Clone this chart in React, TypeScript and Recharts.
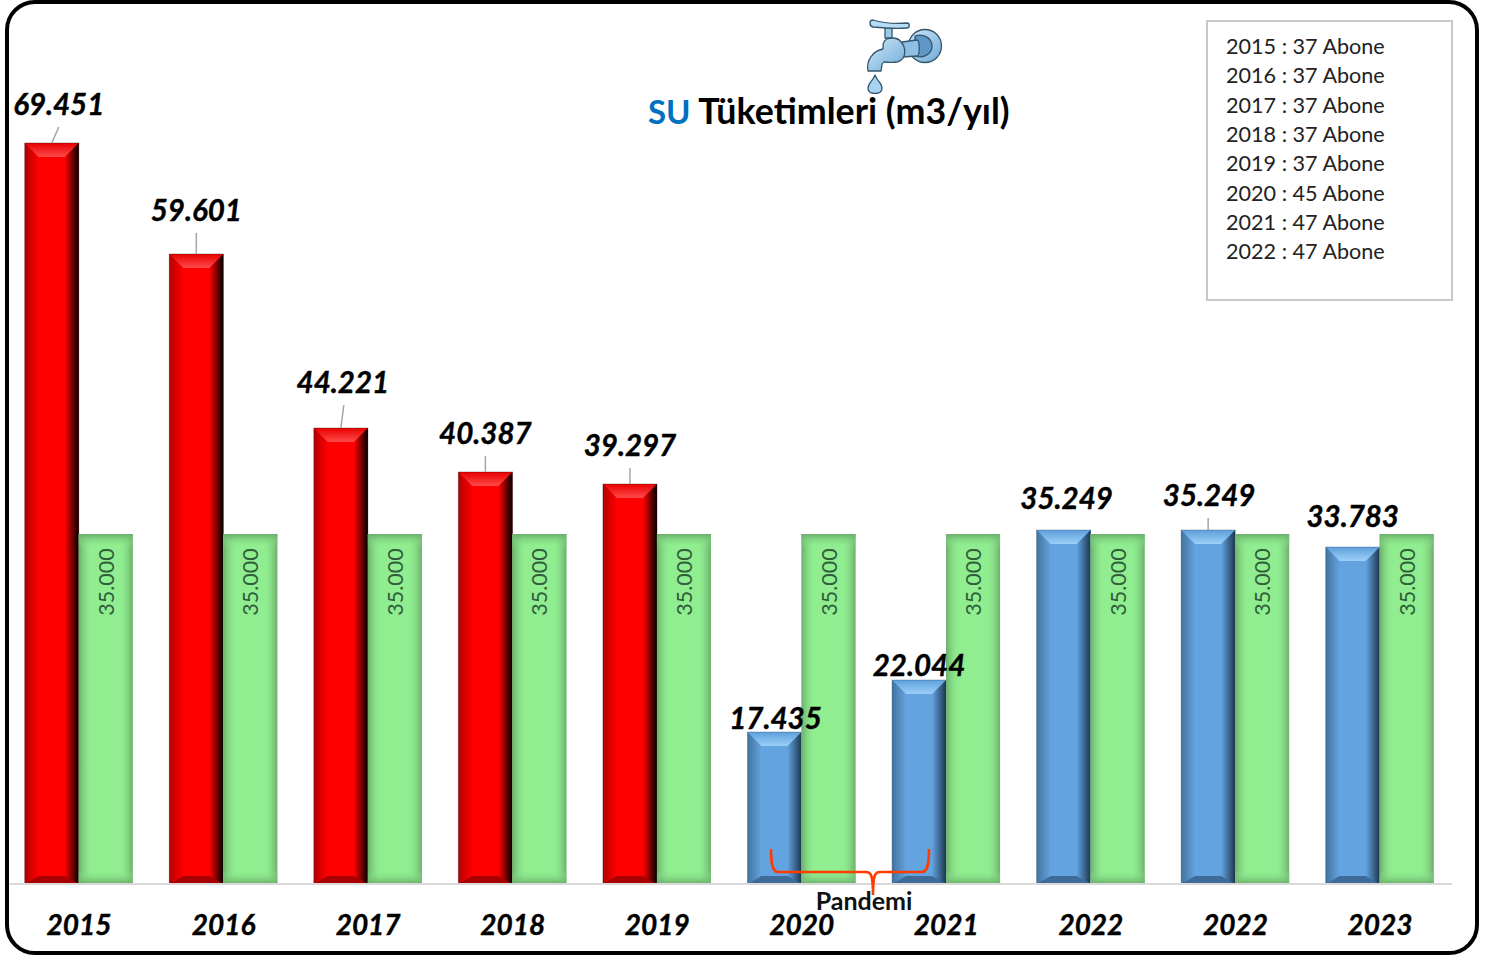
/**
 * SU Tüketimleri — yearly water consumption vs. the 35.000 m3 reference bar.
 *
 * The printed labels do not scale with the bars in the source picture, so the
 * bar heights (plottedUse) are read off the picture separately from the
 * printed figures (printedUse).
 */
import { Bar, BarChart, LabelList, XAxis, YAxis } from "recharts";

const years = ["2015", "2016", "2017", "2018", "2019", "2020", "2021", "2022", "2022", "2023"];
const printedUse = ["69.451", "59.601", "44.221", "40.387", "39.297", "17.435", "22.044", "35.249", "35.249", "33.783"];
const plottedUse = [74100, 63000, 45600, 41200, 40000, 15200, 20400, 35400, 35400, 33700];
const referenceUse = [35000, 35000, 35000, 35000, 35000, 35000, 35000, 35000, 35000, 35000];
const referenceText = "35.000";
const tones = ["red", "red", "red", "red", "red", "blue", "blue", "blue", "blue", "blue"];
const subscribers = [
  "2015 : 37 Abone",
  "2016 : 37 Abone",
  "2017 : 37 Abone",
  "2018 : 37 Abone",
  "2019 : 37 Abone",
  "2020 : 45 Abone",
  "2021 : 47 Abone",
  "2022 : 47 Abone",
];

const chartData = years.map((year, i) => ({
  key: i,
  year,
  label: printedUse[i],
  use: plottedUse[i],
  reference: referenceUse[i],
  tone: tones[i],
}));

const FONT = "Lato, Carlito, sans-serif";

// Hand placed data labels: [shift right, lift above bar, leader length, leader lean]
const labelPlacement = [
  [7, 40, 16, 7],
  [0, 45, 21, 0],
  [2, 47, 23, 3],
  [0, 40, 16, 0],
  [0, 40, 16, 0],
  [1, 15, 0, 0],
  [0, 16, 0, 0],
  [3, 33, 0, 0],
  [1, 36, 12, 0],
  [0, 32, 0, 0],
];

const palettes: Record<string, { main: string; top: string; dark: string; edge: string }> = {
  red: { main: "#ff0000", top: "url(#redTop)", dark: "#a80000", edge: "#000000" },
  blue: { main: "#62a3e0", top: "url(#blueTop)", dark: "#3f6b98", edge: "#1f3a58" },
};

function Gradients() {
  return (
    <svg width="0" height="0" style={{ position: "absolute" }}>
      <defs>
        <linearGradient id="redTop" x1="0" y1="0" x2="0" y2="1">
          <stop offset="0" stopColor="#e80000" />
          <stop offset="1" stopColor="#ff4a4a" />
        </linearGradient>
        <linearGradient id="blueTop" x1="0" y1="0" x2="0" y2="1">
          <stop offset="0" stopColor="#5d9fdc" />
          <stop offset="1" stopColor="#9bd0f7" />
        </linearGradient>
        <linearGradient id="redRight" x1="0" y1="0" x2="1" y2="0">
          <stop offset="0" stopColor="#000" stopOpacity="0" />
          <stop offset="1" stopColor="#000" stopOpacity="1" />
        </linearGradient>
        <linearGradient id="blueRight" x1="0" y1="0" x2="1" y2="0">
          <stop offset="0" stopColor="#1a3048" stopOpacity="0" />
          <stop offset="1" stopColor="#1a3048" stopOpacity="0.95" />
        </linearGradient>
        <linearGradient id="leftShade" x1="0" y1="0" x2="1" y2="0">
          <stop offset="0" stopColor="#000" stopOpacity="0.3" />
          <stop offset="1" stopColor="#000" stopOpacity="0" />
        </linearGradient>
        <linearGradient id="greenLeft" x1="0" y1="0" x2="1" y2="0">
          <stop offset="0" stopColor="#6cae6c" stopOpacity="1" />
          <stop offset="1" stopColor="#90ee90" stopOpacity="0" />
        </linearGradient>
        <linearGradient id="greenRight" x1="1" y1="0" x2="0" y2="0">
          <stop offset="0" stopColor="#6cae6c" stopOpacity="1" />
          <stop offset="1" stopColor="#90ee90" stopOpacity="0" />
        </linearGradient>
        <linearGradient id="greenTop" x1="0" y1="0" x2="0" y2="1">
          <stop offset="0" stopColor="#6cae6c" stopOpacity="1" />
          <stop offset="1" stopColor="#90ee90" stopOpacity="0" />
        </linearGradient>
        <linearGradient id="greenBottom" x1="0" y1="1" x2="0" y2="0">
          <stop offset="0" stopColor="#6cae6c" stopOpacity="1" />
          <stop offset="1" stopColor="#90ee90" stopOpacity="0" />
        </linearGradient>
        <linearGradient id="faucetBody" x1="0" y1="0" x2="1" y2="1">
          <stop offset="0" stopColor="#cfe9fa" />
          <stop offset="1" stopColor="#6fa9d6" />
        </linearGradient>
      </defs>
    </svg>
  );
}

// Bevelled bar, the Excel "3-D format" look
function BevelBar(props: any) {
  const { x, y, width, height, payload } = props;
  const p = palettes[payload.tone];
  const b = 14;
  const side = payload.tone === "red" ? "url(#redRight)" : "url(#blueRight)";
  return (
    <g>
      <rect x={x} y={y} width={width} height={height} fill={p.main} />
      <rect x={x} y={y} width={b} height={height} fill="url(#leftShade)" />
      <rect x={x + width - b} y={y} width={b} height={height} fill={side} />
      <polygon
        points={`${x},${y} ${x + width},${y} ${x + width - b},${y + b} ${x + b},${y + b}`}
        fill={p.top}
      />
      <polygon
        points={`${x},${y + height} ${x + width},${y + height} ${x + width - b},${y + height - 8} ${x + b},${y + height - 8}`}
        fill={p.dark}
      />
      <rect x={x} y={y} width={width} height={height} fill="none" stroke={p.edge} strokeOpacity={0.3} strokeWidth={1} />
    </g>
  );
}

function GreenBar(props: any) {
  const { x, y, width, height } = props;
  const e = 14;
  return (
    <g>
      <rect x={x} y={y} width={width} height={height} fill="#90ee90" />
      <rect x={x} y={y} width={e} height={height} fill="url(#greenLeft)" />
      <rect x={x + width - e} y={y} width={e} height={height} fill="url(#greenRight)" />
      <rect x={x} y={y} width={width} height={e} fill="url(#greenTop)" />
      <rect x={x} y={y + height - e} width={width} height={e} fill="url(#greenBottom)" />
    </g>
  );
}

function UseLabel(props: any) {
  const { x, y, width, value, index } = props;
  const [shift, lift, leader, lean] = labelPlacement[index];
  const cx = x + width / 2;
  return (
    <g>
      {leader > 0 && (
        <line x1={cx} y1={y} x2={cx + lean} y2={y - leader} stroke="#a6a6a6" strokeWidth={1.5} />
      )}
      <text
        x={cx + shift}
        y={y - lift}
        textAnchor="middle"
        dominantBaseline="central"
        fontFamily={FONT}
        fontWeight={700}
        fontStyle="italic"
        fontSize={29.5}
        fill="#000"
        stroke="#000"
        strokeWidth={0.4}
      >
        {value}
      </text>
    </g>
  );
}

function ReferenceLabel(props: any) {
  const { x, y, width } = props;
  const cx = x + width / 2;
  const cy = y + 48;
  return (
    <text
      x={cx}
      y={cy}
      transform={`rotate(-90 ${cx} ${cy})`}
      textAnchor="middle"
      dominantBaseline="central"
      fontFamily={FONT}
      fontSize={21.5}
      fill="#2f5f3a"
    >
      {referenceText}
    </text>
  );
}

function YearTick(props: any) {
  const { x, y, payload } = props;
  return (
    <text
      x={x}
      y={y}
      textAnchor="middle"
      dominantBaseline="central"
      fontFamily={FONT}
      fontWeight={700}
      fontStyle="italic"
      fontSize={28}
      fill="#000"
      stroke="#000"
      strokeWidth={0.4}
    >
      {years[payload.index] ?? payload.value}
    </text>
  );
}

function Faucet() {
  return (
    <svg width={80} height={78} viewBox="0 0 80 78" style={{ position: "absolute", left: 865, top: 16 }}>
      <g stroke="#33566e" strokeWidth={1.3} strokeLinejoin="round">
        <rect x={20} y={8} width={7} height={14} fill="#9ccbe9" />
        <path d="M8 4 C18 7 30 8 42 7 C45 7 45 12 42 12 C30 13 18 12 8 11 C4 10 4 4 8 4 Z" fill="#b5dcf3" />
        <circle cx={60} cy={30} r={16.5} fill="url(#faucetBody)" />
        <path d="M50 20 C58 17 67 22 67 30 C67 38 58 43 50 40 Z" fill="#5f98c8" />
        <path d="M37 26 L52 24 C55 24 55 40 52 40 L37 41 Z" fill="#8dc0e4" />
        <path
          d="M3 55 C1 44 8 35 18 33 C18 28 18 25 22 23 C27 21 34 22 36 26 C41 31 41 41 36 44 C32 48 24 46 19 46 C16 47 17 52 16 55 Z"
          fill="url(#faucetBody)"
        />
        <path d="M10 59 C8 65 3 67 3 72 C3 76 6 77.5 10 77.5 C14 77.5 17 76 17 72 C17 67 12 65 10 59 Z" fill="#a5d3f0" />
      </g>
    </svg>
  );
}

function PandemicBrace() {
  return (
    <svg width={1491} height={957} style={{ position: "absolute", left: 0, top: 0, pointerEvents: "none" }}>
      <path
        d="M771 849 C771 862 772 872 778 872 L866 872 C871 872 873 875 873 895 C873 875 875 872 880 872 L922 872 C928 872 929 862 929 849"
        fill="none"
        stroke="#ff3c00"
        strokeWidth={2.6}
      />
    </svg>
  );
}

export default function App() {
  return (
    <div style={{ position: "absolute", left: 0, top: 0, width: 1491, height: 957, background: "#fff", overflow: "hidden" }}>
      <Gradients />
      <BarChart
        width={1491}
        height={957}
        data={chartData}
        margin={{ top: 0, right: 38.75, left: 6.75, bottom: 0 }}
        barGap={0}
        barCategoryGap={18}
        style={{ position: "absolute", left: 0, top: 0 }}
      >
        <XAxis
          dataKey="key"
          tick={<YearTick />}
          tickLine={false}
          axisLine={{ stroke: "#d9d9d9", strokeWidth: 2 }}
          tickMargin={34}
          interval={0}
          height={73}
        />
        <YAxis hide domain={[0, 88400]} />
        <Bar dataKey="use" isAnimationActive={false} shape={<BevelBar />}>
          <LabelList dataKey="label" content={<UseLabel />} />
        </Bar>
        <Bar dataKey="reference" isAnimationActive={false} shape={<GreenBar />}>
          <LabelList dataKey="reference" content={<ReferenceLabel />} />
        </Bar>
      </BarChart>

      <PandemicBrace />
      <div
        style={{
          position: "absolute",
          left: 764,
          width: 200,
          top: 885,
          textAlign: "center",
          fontFamily: FONT,
          fontWeight: 700,
          fontSize: 25,
          lineHeight: "30px",
          color: "#111",
        }}
      >
        Pandemi
      </div>

      <Faucet />
      <div
        style={{
          position: "absolute",
          left: 648,
          top: 90,
          fontFamily: FONT,
          fontWeight: 700,
          fontSize: 35.8,
          lineHeight: "42px",
          whiteSpace: "nowrap",
          color: "#000",
        }}
      >
        <span style={{ color: "#0070c0", fontSize: 33 }}>SU</span> Tüketimleri (m3/yıl)
      </div>

      <div
        style={{
          position: "absolute",
          left: 1206,
          top: 20,
          width: 243,
          height: 277,
          border: "2px solid #c8c8c8",
        }}
      >
        {subscribers.map((line, i) => (
          <div
            key={i}
            style={{
              position: "absolute",
              left: 18,
              top: 10 + i * 29.3,
              fontFamily: FONT,
              fontSize: 21.6,
              lineHeight: "29px",
              whiteSpace: "nowrap",
              color: "#222",
            }}
          >
            {line}
          </div>
        ))}
      </div>

      {/* outer frame */}
      <div
        style={{
          position: "absolute",
          left: 5,
          top: 0,
          width: 1466,
          height: 947,
          border: "4px solid #000",
          borderRadius: 30,
          pointerEvents: "none",
        }}
      />
    </div>
  );
}
